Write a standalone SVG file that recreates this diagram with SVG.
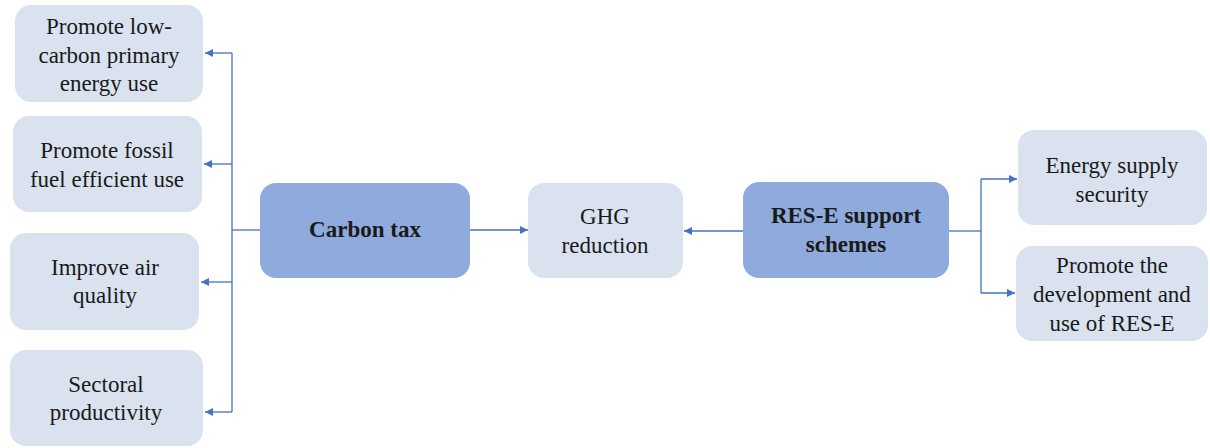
<svg xmlns="http://www.w3.org/2000/svg" width="1210" height="448" viewBox="0 0 1210 448">
  <defs>
    <marker id="arrow" viewBox="0 0 10 10" refX="10" refY="5" markerWidth="9" markerHeight="8" markerUnits="userSpaceOnUse" orient="auto">
      <path d="M0,0 L10,5 L0,10 z" fill="#4472C4"/>
    </marker>
  </defs>
  <style>
    .light { fill: #D9E2EE; }
    .dark { fill: #8FAADC; }
    text { font-family: "Liberation Serif", "Times New Roman", serif; font-size: 23px; fill: #1a1a1a; text-anchor: middle; }
    .bold { font-weight: bold; }
    .conn { fill: none; stroke: #4472C4; stroke-width: 1.3; }
  </style>

  <rect width="1210" height="448" fill="#ffffff"/>

  <g id="connectors">
    <!-- carbon tax fan-out to the left -->
    <path class="conn" d="M260,230 H232"/>
    <path class="conn" d="M232,53 V412"/>
    <path class="conn" d="M232,53 H205" marker-end="url(#arrow)"/>
    <path class="conn" d="M232,164 H204" marker-end="url(#arrow)"/>
    <path class="conn" d="M232,282 H201" marker-end="url(#arrow)"/>
    <path class="conn" d="M232,412 H205" marker-end="url(#arrow)"/>
    <!-- into GHG reduction -->
    <path class="conn" d="M470,230 H528" marker-end="url(#arrow)"/>
    <path class="conn" d="M743,231 H684" marker-end="url(#arrow)"/>
    <!-- RES-E fan-out to the right -->
    <path class="conn" d="M949,231 H981"/>
    <path class="conn" d="M981,179 V293"/>
    <path class="conn" d="M981,179 H1017" marker-end="url(#arrow)"/>
    <path class="conn" d="M981,293 H1015" marker-end="url(#arrow)"/>
  </g>

  <g id="low-carbon">
    <rect class="light" x="15" y="5" width="188" height="97" rx="16"/>
    <text x="109" y="34">Promote low-</text>
    <text x="109" y="63">carbon primary</text>
    <text x="109" y="91">energy use</text>
  </g>

  <g id="fossil-efficiency">
    <rect class="light" x="13" y="116" width="189" height="96" rx="16"/>
    <text x="107" y="158">Promote fossil</text>
    <text x="107" y="187">fuel efficient use</text>
  </g>

  <g id="air-quality">
    <rect class="light" x="10" y="233" width="189" height="97" rx="16"/>
    <text x="105" y="275">Improve air</text>
    <text x="105" y="303">quality</text>
  </g>

  <g id="productivity">
    <rect class="light" x="10" y="350" width="193" height="96" rx="16"/>
    <text x="106" y="392">Sectoral</text>
    <text x="106" y="420">productivity</text>
  </g>

  <g id="carbon-tax">
    <rect class="dark" x="260" y="183" width="210" height="95" rx="16"/>
    <text class="bold" x="365" y="237">Carbon tax</text>
  </g>

  <g id="ghg-reduction">
    <rect class="light" x="528" y="183" width="155" height="95" rx="16"/>
    <text x="605" y="224">GHG</text>
    <text x="605" y="253">reduction</text>
  </g>

  <g id="res-e-support">
    <rect class="dark" x="743" y="182" width="206" height="96" rx="16"/>
    <text class="bold" x="846" y="223">RES-E support</text>
    <text class="bold" x="846" y="252">schemes</text>
  </g>

  <g id="supply-security">
    <rect class="light" x="1018" y="130" width="189" height="95" rx="16"/>
    <text x="1112" y="173">Energy supply</text>
    <text x="1112" y="202">security</text>
  </g>

  <g id="res-e-development">
    <rect class="light" x="1016" y="246" width="192" height="95" rx="16"/>
    <text x="1112" y="273">Promote the</text>
    <text x="1112" y="302">development and</text>
    <text x="1112" y="331">use of RES-E</text>
  </g>
</svg>
